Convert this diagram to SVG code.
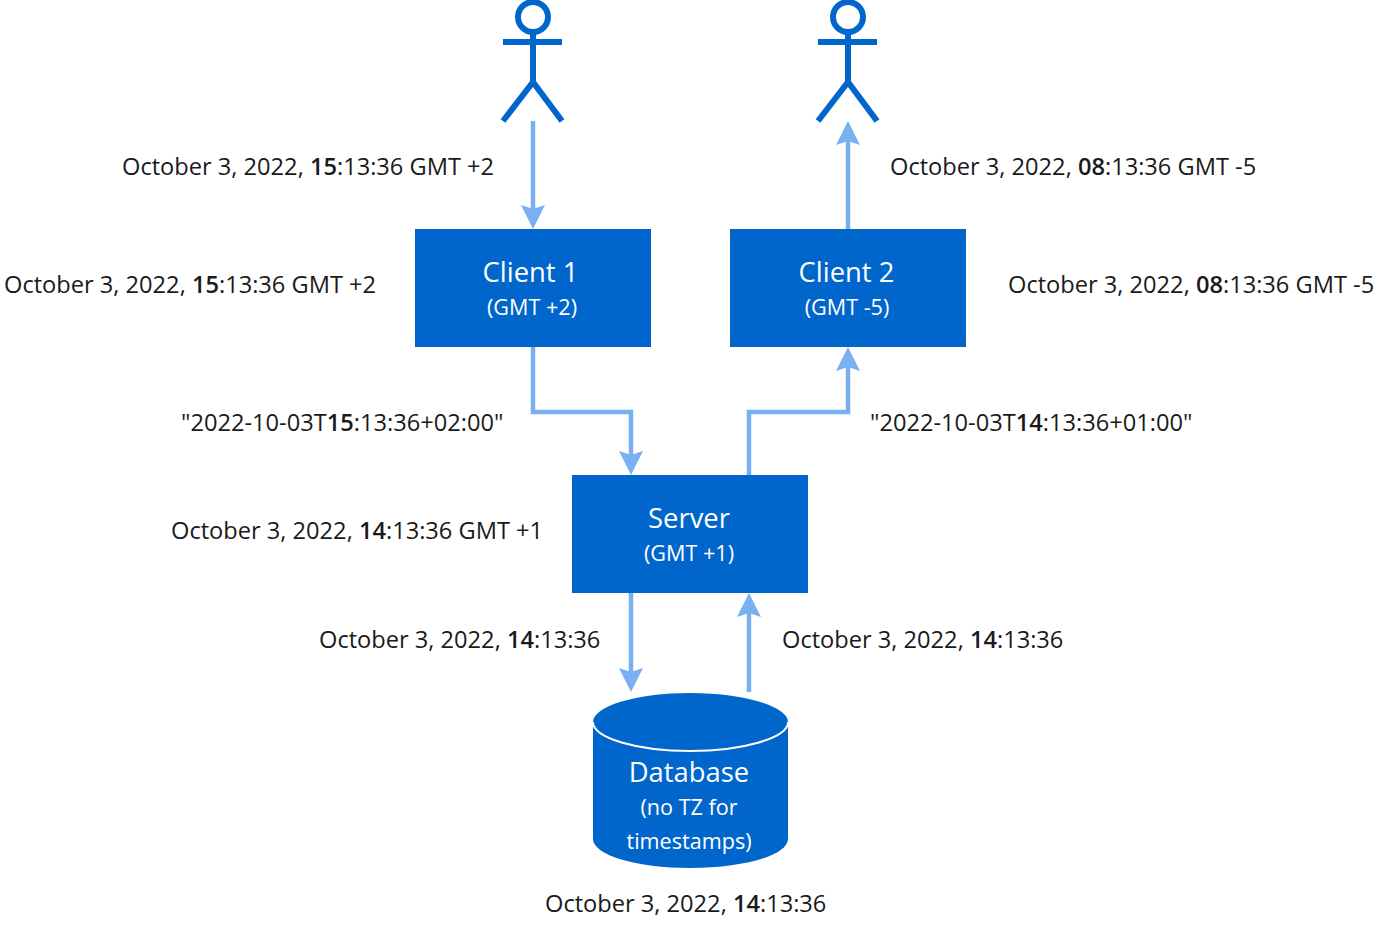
<svg xmlns="http://www.w3.org/2000/svg" width="1400" height="937" viewBox="0 0 1400 937">
<style>
text{font-family:"Open Sans","Noto Sans",sans-serif;}
.l{font-size:23.63px;fill:#1a1a1a}
.l tspan{font-weight:600}
.t{font-size:27.4px;fill:#fff;text-anchor:middle}
.s{font-size:21.6px;fill:#fff;text-anchor:middle}
.b{fill:#0066cc}
.c{fill:none;stroke:#78b0f2;stroke-width:4.5}
.a{fill:none;stroke:#0066cc;stroke-width:6}
.h{fill:#78b0f2}
</style>
<rect width="1400" height="937" fill="#fff"/>
<g id="connectors">
<path class="c" d="M533 121V210"/><path class="h" d="M533 229l-12-24 12 4 12-4z"/>
<path class="c" d="M848 229V140"/><path class="h" d="M848 121l-12 24 12-4 12 4z"/>
<path class="c" d="M533 347V412H631V456"/><path class="h" d="M631 475l-12-24 12 4 12-4z"/>
<path class="c" d="M749 475V412H848V366"/><path class="h" d="M848 347l-12 24 12-4 12 4z"/>
<path class="c" d="M631 593V673"/><path class="h" d="M631 692l-12-24 12 4 12-4z"/>
<path class="c" d="M749 692V612"/><path class="h" d="M749 593l-12 24 12-4 12 4z"/>
</g>
<g id="user1"><circle class="a" cx="533" cy="17" r="15"/><path class="a" d="M503 42H562M533 32V82M533 82L503 121M533 82L562 121"/></g>
<g id="user2"><circle class="a" cx="848" cy="17" r="15"/><path class="a" d="M818 42H877M848 32V82M848 82L818 121M848 82L877 121"/></g>
<g id="client1"><rect class="b" x="415" y="229" width="236" height="118"/><text class="t" x="530.500" y="282">Client 1</text><text class="s" x="532" y="315">(GMT +2)</text></g>
<g id="client2"><rect class="b" x="730" y="229" width="236" height="118"/><text class="t" x="846.500" y="282">Client 2</text><text class="s" x="847" y="315">(GMT -5)</text></g>
<g id="server"><rect class="b" x="572" y="475" width="236" height="118"/><text class="t" x="689" y="528">Server</text><text class="s" x="689" y="561">(GMT +1)</text></g>
<g id="database">
<path class="b" d="M593 722C593 706 637 693 690 693S788 706 788 722V839C788 855 744 868 690 868S593 855 593 839Z"/>
<path d="M593 722C593 738 637 751 690 751S788 738 788 722" fill="none" stroke="#fff" stroke-width="2"/>
<text class="t" x="689" y="782">Database</text><text class="s" x="689" y="815">(no TZ for</text><text class="s" x="689" y="849">timestamps)</text>
</g>
<g id="labels">
<text class="l" x="122" y="175">October 3, 2022, <tspan>15</tspan>:13:36 GMT +2</text>
<text class="l" x="890" y="175">October 3, 2022, <tspan>08</tspan>:13:36 GMT -5</text>
<text class="l" x="4" y="293">October 3, 2022, <tspan>15</tspan>:13:36 GMT +2</text>
<text class="l" x="1008" y="293">October 3, 2022, <tspan>08</tspan>:13:36 GMT -5</text>
<text class="l" x="181" y="431">"2022-10-03T<tspan>15</tspan>:13:36+02:00"</text>
<text class="l" x="870" y="431">"2022-10-03T<tspan>14</tspan>:13:36+01:00"</text>
<text class="l" x="171" y="539">October 3, 2022, <tspan>14</tspan>:13:36 GMT +1</text>
<text class="l" x="319" y="648">October 3, 2022, <tspan>14</tspan>:13:36</text>
<text class="l" x="782" y="648">October 3, 2022, <tspan>14</tspan>:13:36</text>
<text class="l" x="545" y="912">October 3, 2022, <tspan>14</tspan>:13:36</text>
</g>
</svg>
